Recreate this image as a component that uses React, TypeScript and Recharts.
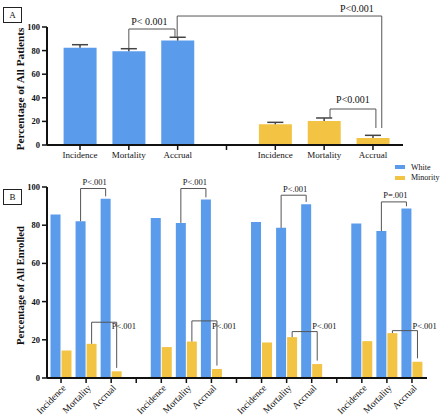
import React from 'react';
import { BarChart, Bar, XAxis, YAxis, Cell, ReferenceLine, ReferenceDot } from 'recharts';

const measures = ['Incidence', 'Mortality', 'Accrual'];
const seriesNames = ['White', 'Minority'];
const seriesColors = ['#5b9bec', '#f3c444'];
const yTicks = [0, 20, 40, 60, 80, 100];

// panel A: % of all patients (mean, upper error)
const whiteA = [82.5, 79.5, 88.5];
const whiteAErr = [2.5, 2.1, 2.8];
const minorityA = [17.5, 20.3, 5.9];
const minorityAErr = [1.7, 2.6, 2.3];

// panel B: % of all enrolled, four groups of Incidence / Mortality / Accrual
const whiteB = [85.6, 82.1, 93.9, 83.8, 81.2, 93.4, 81.7, 78.6, 91.0, 80.9, 76.9, 88.7];
const minorityB = [14.4, 17.9, 3.5, 16.2, 19.1, 4.7, 18.6, 21.4, 7.3, 19.3, 23.5, 8.5];
const pTopB = ['P<.001', 'P<.001', 'P<.001', 'P=.001'];
const pBottomB = ['P<.001', 'P<.001', 'P<.001', 'P<.001'];
const topBracketB = [99.2, 99.2, 95.7, 92.2];
const bottomBracketB = [29.2, 29.9, 24.3, 24.8];

const FONT = '"Liberation Serif", "Times New Roman", serif';
const INK = '#111';
const LINE = '#555';

type Bracket = {
  x1: number; x2: number; y1: number; y: number; y2: number;
  text: string; tx: number; ty: number; anchor: 'start' | 'middle';
};

// brackets in panel A (x in category slots, y in %)
const bracketsA: Bracket[] = [
  { x1: 1, x2: 1.945, y1: 82, y: 98.3, y2: 91.5, text: 'P< 0.001', tx: 1.42, ty: 101.3, anchor: 'middle' },
  { x1: 1.99, x2: 6.18, y1: 91.5, y: 109.3, y2: 14.4, text: 'P<0.001', tx: 5.67, ty: 113.1, anchor: 'middle' },
  { x1: 5.12, x2: 6.06, y1: 22.9, y: 30.5, y2: 14.4, text: 'P<0.001', tx: 5.59, ty: 35.2, anchor: 'middle' },
];

const dataA = [
  ...whiteA.map((v, i) => ({ pos: i, value: v, err: whiteAErr[i], s: 0 })),
  ...minorityA.map((v, i) => ({ pos: i + 4, value: v, err: minorityAErr[i], s: 1 })),
];

const dataB = whiteB.map((w, i) => ({
  pos: Math.floor(i / 3) * 4 + (i % 3),
  white: w,
  minority: minorityB[i],
}));

const SIDE = 0.22; // half the offset between the paired bars, in slots
const bracketsB: Bracket[] = [];
pTopB.forEach((t, g) => {
  const x1 = g * 4 + 1 - SIDE;
  const x2 = g * 4 + 2 - SIDE;
  bracketsB.push({
    x1, x2, y1: whiteB[g * 3 + 1], y: topBracketB[g], y2: whiteB[g * 3 + 2] + 1.2,
    text: t, tx: (x1 + x2) / 2 + 0.06, ty: topBracketB[g] + 1.9, anchor: 'middle',
  });
});
pBottomB.forEach((t, g) => {
  const x1 = g * 4 + 1 + SIDE;
  const x2 = g * 4 + 2 + SIDE;
  bracketsB.push({
    x1, x2, y1: minorityB[g * 3 + 1], y: bottomBracketB[g], y2: minorityB[g * 3 + 2] + 1.8,
    text: t, tx: x2 - 0.2, ty: 25.4, anchor: 'start',
  });
});

const slotLabel = (p: number) => (p % 4 === 3 ? '' : measures[p % 4]);

const renderBracket = (b: Bracket, key: string, fontSize: number) => [
  <ReferenceLine key={key + 'l'} segment={[{ x: b.x1, y: b.y1 }, { x: b.x1, y: b.y }]} stroke={LINE} ifOverflow="visible" />,
  <ReferenceLine key={key + 'h'} segment={[{ x: b.x1, y: b.y }, { x: b.x2, y: b.y }]} stroke={LINE} ifOverflow="visible" />,
  <ReferenceLine key={key + 'r'} segment={[{ x: b.x2, y: b.y }, { x: b.x2, y: b.y2 }]} stroke={LINE} ifOverflow="visible" />,
  <ReferenceDot
    key={key + 't'}
    x={b.tx}
    y={b.ty}
    r={0}
    ifOverflow="visible"
    shape={(p: any) => (
      <text x={p.cx} y={p.cy} textAnchor={b.anchor} fontSize={fontSize} fontFamily={FONT} fill={INK}>
        {b.text}
      </text>
    )}
  />,
];

// upper error whisker + cap (the lower half sits behind the bar in the original)
const CAP = 0.165;
const renderError = (d: { pos: number; value: number; err: number }) => {
  const top = d.value + d.err;
  return [
    <ReferenceLine key={'ev' + d.pos} segment={[{ x: d.pos, y: d.value }, { x: d.pos, y: top }]} stroke="#444" strokeWidth={1.5} />,
    <ReferenceLine key={'ec' + d.pos} segment={[{ x: d.pos - CAP, y: top }, { x: d.pos + CAP, y: top }]} stroke="#444" strokeWidth={1.5} />,
  ];
};

const AxisTitle = (props: any) => {
  const { viewBox, text, size } = props;
  const cx = 20;
  const cy = viewBox.y + viewBox.height / 2 + 3;
  return (
    <text x={cx} y={cy} transform={`rotate(-90 ${cx} ${cy})`} textAnchor="middle" dominantBaseline="central"
      fontSize={size} fontWeight="bold" fontFamily={FONT} fill={INK}>
      {text}
    </text>
  );
};

const SlantTick = (props: any) => {
  const { x, y, payload } = props;
  return (
    <g transform={`translate(${x + 2},${y})`}>
      <text x={0} y={0} dy={5} textAnchor="end" transform="rotate(-45)" fontSize={9.5} fontFamily={FONT} fill={INK}>
        {slotLabel(payload.value)}
      </text>
    </g>
  );
};

const yTickStyle = { fontSize: 8.5, fontWeight: 'bold', fontFamily: FONT, fill: INK };
const axisStroke = { stroke: INK, strokeWidth: 2 };
const tickStroke = { stroke: INK, strokeWidth: 1.5 };

const PanelTag = ({ text, top }: { text: string; top: number }) => (
  <div style={{
    position: 'absolute', left: 3, top, width: 17, height: 14, border: '1px solid #222',
    fontFamily: FONT, fontSize: 9, lineHeight: '14px', textAlign: 'center', color: INK,
  }}>{text}</div>
);

const App = () => {
  return (
    <div style={{ position: 'absolute', left: 0, top: 0, width: 440, height: 416, background: '#fff', overflow: 'hidden' }}>
      <div style={{ position: 'absolute', left: 0, top: 0 }}>
        <BarChart width={440} height={165} data={dataA} margin={{ top: 27, right: 37, bottom: 0, left: 0 }}>
          <XAxis
            dataKey="pos"
            type="number"
            domain={[-0.676, 6.615]}
            ticks={[0, 1, 2, 3, 4, 5, 6]}
            tickFormatter={slotLabel}
            height={20}
            tickSize={5}
            axisLine={axisStroke}
            tickLine={tickStroke}
            tick={{ fontSize: 9, fontFamily: FONT, fill: INK }}
            interval={0}
          />
          <YAxis
            width={47}
            domain={[0, 100]}
            ticks={yTicks}
            tickSize={5}
            axisLine={axisStroke}
            tickLine={tickStroke}
            tick={yTickStyle}
            label={<AxisTitle text="Percentage of All Patients" size={11.2} />}
          />
          <Bar dataKey="value" barSize={33} isAnimationActive={false}>
            {dataA.map((d) => (
              <Cell key={d.pos} fill={seriesColors[d.s]} />
            ))}
          </Bar>
          {dataA.map(renderError)}
          {bracketsA.map((b, i) => renderBracket(b, 'a' + i, 10))}
        </BarChart>
      </div>

      <div style={{ position: 'absolute', left: 0, top: 160 }}>
        <BarChart width={440} height={256} data={dataB} barGap={1} margin={{ top: 27, right: 13, bottom: 0, left: 0 }}>
          <XAxis
            dataKey="pos"
            type="number"
            domain={[-0.56, 14.6]}
            ticks={[0, 1, 2, 3, 4, 5, 6, 7, 8, 9, 10, 11, 12, 13, 14]}
            height={38}
            tickSize={5}
            axisLine={axisStroke}
            tickLine={tickStroke}
            tick={<SlantTick />}
            interval={0}
          />
          <YAxis
            width={47}
            domain={[0, 100]}
            ticks={yTicks}
            tickSize={5}
            axisLine={axisStroke}
            tickLine={tickStroke}
            tick={yTickStyle}
            label={<AxisTitle text="Percentage of All Enrolled" size={10.6} />}
          />
          <Bar dataKey="white" name={seriesNames[0]} fill={seriesColors[0]} barSize={10} isAnimationActive={false} />
          <Bar dataKey="minority" name={seriesNames[1]} fill={seriesColors[1]} barSize={10} isAnimationActive={false} />
          {bracketsB.map((b, i) => renderBracket(b, 'b' + i, 8.5))}
        </BarChart>
      </div>

      <div style={{ position: 'absolute', left: 395, top: 162, fontFamily: FONT, fontSize: 8, color: INK }}>
        {seriesNames.map((n, i) => (
          <div key={n} style={{ display: 'flex', alignItems: 'center', height: 10.6 }}>
            <span style={{ display: 'inline-block', width: 10, height: 4, background: seriesColors[i], marginRight: 6 }} />
            {n}
          </div>
        ))}
      </div>

      <PanelTag text="A" top={7} />
      <PanelTag text="B" top={189} />
    </div>
  );
};

export default App;
